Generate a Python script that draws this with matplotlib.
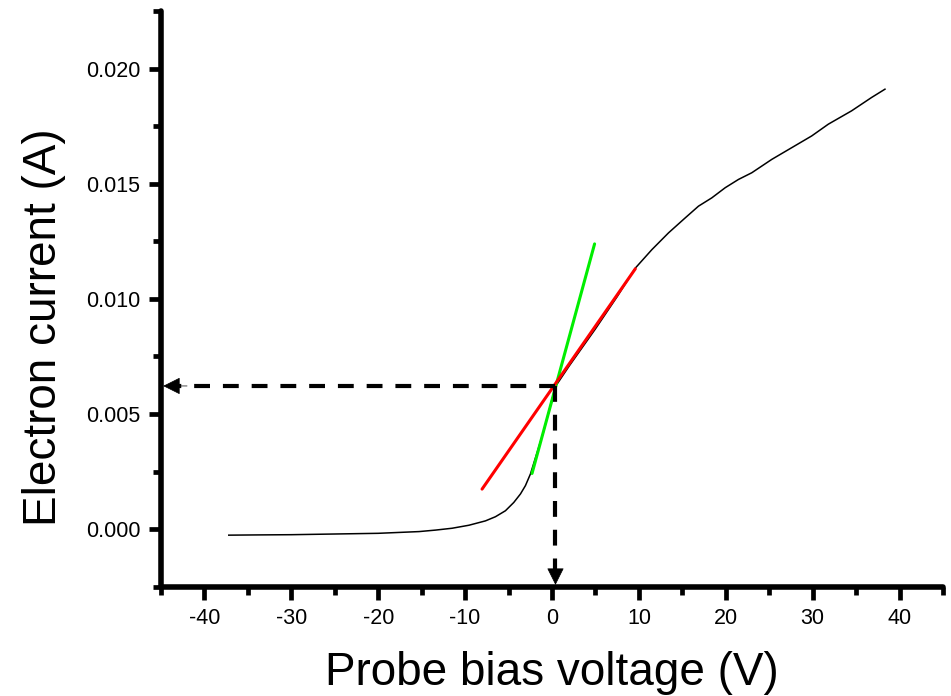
import matplotlib
matplotlib.use("Agg")
import matplotlib.pyplot as plt
from matplotlib.ticker import MultipleLocator, FormatStrFormatter

plt.rcParams['font.family'] = ['Liberation Sans', 'DejaVu Sans']
plt.rcParams['axes.unicode_minus'] = False

# I-V curve of the probe
voltage = [-37.2, -34, -30, -25, -20, -15.3, -13.4, -11.5, -9.57, -7.66,
           -6.51, -5.36, -4.40, -3.63, -3.06, -2.48, -1.0, 0.4, 2.0, 5.0,
           7.5, 9.59, 11.49, 13.41, 15.33, 16.86, 18.39, 19.93, 21.46, 22.99,
           25.29, 27.59, 29.89, 31.8, 34.48, 36.78, 38.32]
current = [-0.00026, -0.00025, -0.00024, -0.00021, -0.00018, -0.000105,
           -0.00004, 0.00004, 0.00017, 0.00036, 0.00054, 0.0008, 0.00116,
           0.00153, 0.00189, 0.0024, 0.0042, 0.0062, 0.0071, 0.0087, 0.0101,
           0.01134, 0.01214, 0.01287, 0.01352, 0.01403, 0.01439, 0.01483,
           0.01519, 0.01548, 0.01606, 0.01657, 0.01708, 0.01759, 0.01817,
           0.01875, 0.01911]

# fitted straight lines
green_x = [-2.3, 4.9]
green_y = [0.00242, 0.01239]
red_x = [-8.05, 9.59]
red_y = [0.00174, 0.01131]

# crossing point of the two fits
cross_v = 0.4
cross_i = 0.00622

xlim = (-45, 45)
ylim = (-0.0025, 0.0225)

fig = plt.figure(figsize=(9.51, 6.96), dpi=100)
ax = fig.add_axes([0.1693, 0.157, 0.8223, 0.827])

ax.plot(voltage, current, color='black', lw=1.1, zorder=2)
ax.plot(green_x, green_y, color='#00ee00', lw=2.2, solid_capstyle='round', zorder=3)
ax.plot(red_x, red_y, color='#ff0000', lw=2.2, solid_capstyle='round', zorder=3)

# dashed guide lines with arrow heads
dash = dict(color='black', lw=3, dashes=(3.8, 3.1), zorder=4, clip_on=False)
ax.plot([cross_v, xlim[0] + 1.8], [cross_i, cross_i], **dash)
ax.plot([cross_v, cross_v], [cross_i, ylim[0] + 0.00065], **dash)
head = dict(arrowstyle='-|>,head_length=1.1,head_width=0.55', color='black',
            lw=0.5, shrinkA=0, shrinkB=0, mutation_scale=10)
ax.annotate('', xy=(xlim[0] + 0.25, cross_i), xytext=(xlim[0] + 3, cross_i),
            arrowprops=head, annotation_clip=False, zorder=5)
ax.annotate('', xy=(cross_v, ylim[0] + 0.00008), xytext=(cross_v, ylim[0] + 0.0009),
            arrowprops=head, annotation_clip=False, zorder=5)

ax.set_xlim(*xlim)
ax.set_ylim(*ylim)
ax.xaxis.set_major_locator(MultipleLocator(10))
ax.xaxis.set_minor_locator(MultipleLocator(5))
ax.yaxis.set_major_locator(MultipleLocator(0.005))
ax.yaxis.set_minor_locator(MultipleLocator(0.0025))
ax.yaxis.set_major_formatter(FormatStrFormatter('%.3f'))

for side in ['top', 'right']:
    ax.spines[side].set_visible(False)
for side in ['left', 'bottom']:
    ax.spines[side].set_linewidth(4)
    ax.spines[side].set_capstyle('round')

ax.tick_params(which='major', direction='out', length=9, width=3.4,
               labelsize=15.5, pad=6)
ax.tick_params(which='minor', direction='out', length=5.5, width=3.4)

ax.set_xlabel('Probe bias voltage (V)', fontsize=33, labelpad=16)
ax.set_ylabel('Electron current (A)', fontsize=33)
ax.yaxis.set_label_coords(-0.122, 0.451)

fig.savefig('out.png', dpi=100)
